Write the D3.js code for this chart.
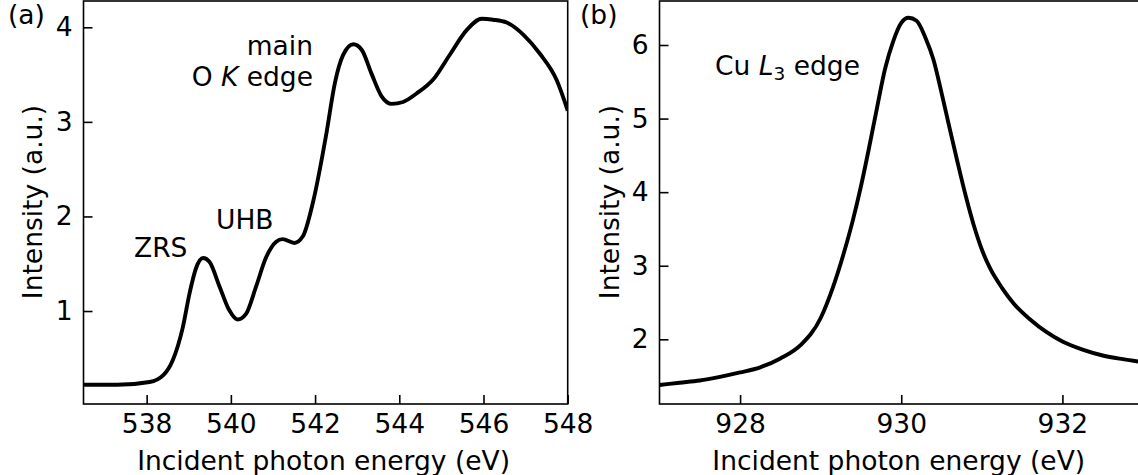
<html>
<head>
<style>
  body { margin: 0; background: #fff; }
  text { font-family: "DejaVu Sans", sans-serif; fill: #000; }
</style>
</head>
<body>
<script src="https://cdn.jsdelivr.net/npm/d3@7"></script>
<script>

// panel (a): O K edge
var energyA = [536.5, 537.3, 538.07, 538.39, 538.62, 538.86, 539.02, 539.17, 539.34, 539.49,
  539.73, 539.96, 540.16, 540.36, 540.6, 540.83, 541.07, 541.23, 541.51, 541.71,
  541.95, 542.27, 542.47, 542.67, 542.91, 543.11, 543.34, 543.58, 543.82,
  544.09, 544.41, 544.81, 545.2, 545.6, 545.96, 546.23, 546.55, 546.95, 547.34,
  547.74, 548.0];
var intensityA = [0.22, 0.22, 0.25, 0.32, 0.48, 0.83, 1.19, 1.45, 1.56, 1.52,
  1.26, 1.01, 0.91, 0.97, 1.26, 1.56, 1.73, 1.76, 1.72, 1.79,
  2.15, 2.88, 3.41, 3.71, 3.82, 3.76, 3.51, 3.27, 3.19,
  3.21, 3.30, 3.45, 3.71, 3.97, 4.09, 4.08, 4.05, 3.92, 3.72,
  3.44, 3.12];
var xTicksA = [538, 540, 542, 544, 546, 548];
var yTicksA = [1, 2, 3, 4];

// panel (b): Cu L3 edge
var energyB = [927.0, 927.25, 927.5, 927.75, 928.0, 928.25, 928.5, 928.75, 929.0, 929.15,
  929.3, 929.4, 929.5, 929.6, 929.7, 929.8, 929.9, 930.0, 930.09, 930.19,
  930.3, 930.4, 930.5, 930.6, 930.7, 930.8, 930.9, 931.0, 931.1, 931.25,
  931.4, 931.6, 931.8, 932.0, 932.25, 932.5, 932.75, 933.0];
var intensityB = [1.38, 1.41, 1.44, 1.49, 1.55, 1.62, 1.74, 1.92, 2.29, 2.70,
  3.22, 3.62, 4.08, 4.60, 5.15, 5.68, 6.05, 6.30, 6.37, 6.33,
  6.10, 5.80, 5.35, 4.87, 4.40, 3.95, 3.55, 3.22, 2.97, 2.70,
  2.48, 2.27, 2.10, 1.97, 1.86, 1.78, 1.73, 1.69];
var xTicksB = [928, 930, 932];
var yTicksB = [2, 3, 4, 5, 6];

var W = 1138, H = 475, FS = 26.5;
var svg = d3.select("body").append("svg")
  .attr("width", W).attr("height", H);

function panel(opts) {
  var x = d3.scaleLinear().domain(opts.xDomain).range(opts.xRange);
  var y = d3.scaleLinear().domain(opts.yDomain).range([404, 1]);
  var g = svg.append("g");

  var clipId = "clip" + opts.id;
  svg.append("clipPath").attr("id", clipId).append("rect")
    .attr("x", opts.xRange[0]).attr("y", 1)
    .attr("width", opts.xRange[1] - opts.xRange[0]).attr("height", 403);

  var line = d3.line()
    .x(function(d) { return x(d[0]); })
    .y(function(d) { return y(d[1]); })
    .curve(d3.curveMonotoneX);
  g.append("path")
    .datum(d3.zip(opts.xs, opts.ys))
    .attr("clip-path", "url(#" + clipId + ")")
    .attr("fill", "none").attr("stroke", "#000")
    .attr("stroke-width", 3.9).attr("stroke-linejoin", "round")
    .attr("d", line);

  var ax = g.append("g").attr("transform", "translate(0,404)")
    .call(d3.axisBottom(x).tickValues(opts.xTicks).tickSize(-9).tickPadding(10).tickFormat(d3.format("d")));
  var ay = g.append("g").attr("transform", "translate(" + opts.xRange[0] + ",0)")
    .call(d3.axisLeft(y).tickValues(opts.yTicks).tickSize(-9).tickPadding(11).tickFormat(d3.format("d")));
  [ax, ay].forEach(function(a) {
    a.select(".domain").remove();
    a.selectAll(".tick line").attr("stroke", "#000").attr("stroke-width", 1.6);
    a.selectAll(".tick text").attr("font-size", FS).attr("font-family", "DejaVu Sans").attr("fill", "#000");
  });

  g.append("rect")
    .attr("x", opts.xRange[0]).attr("y", 1)
    .attr("width", opts.xRange[1] - opts.xRange[0]).attr("height", 403)
    .attr("fill", "none").attr("stroke", "#000").attr("stroke-width", 1.6);

  g.append("text")
    .attr("x", (opts.xRange[0] + Math.min(opts.xRange[1], W)) / 2 + opts.xLabelShift)
    .attr("y", 470).attr("text-anchor", "middle").attr("font-size", FS)
    .text("Incident photon energy (eV)");
  g.append("text")
    .attr("transform", "translate(" + opts.yLabelX + ",202) rotate(-90)")
    .attr("text-anchor", "middle").attr("font-size", FS)
    .text("Intensity (a.u.)");
  g.append("text").attr("x", opts.tagX).attr("y", 24).attr("font-size", FS).text(opts.tag);
  return g;
}

var ga = panel({ id: "a", xs: energyA, ys: intensityA, xDomain: [536.5, 548], xRange: [83.5, 567.7],
  yDomain: [0.017, 4.278], xTicks: xTicksA, yTicks: yTicksA, xLabelShift: -2,
  yLabelX: 42, tagX: 8, tag: "(a)" });
var gb = panel({ id: "b", xs: energyB, ys: intensityB, xDomain: [927, 933], xRange: [659.5, 1143],
  yDomain: [1.121, 6.598], xTicks: xTicksB, yTicks: yTicksB, xLabelShift: 0,
  yLabelX: 619, tagX: 580, tag: "(b)" });

// annotations
ga.append("text").attr("x", 313).attr("y", 55).attr("text-anchor", "end").attr("font-size", FS).text("main");
var ok = ga.append("text").attr("x", 313).attr("y", 86).attr("text-anchor", "end").attr("font-size", FS);
ok.append("tspan").text("O ");
ok.append("tspan").attr("font-style", "italic").text("K");
ok.append("tspan").text(" edge");
ga.append("text").attr("x", 216).attr("y", 229).attr("font-size", FS).text("UHB");
ga.append("text").attr("x", 134).attr("y", 257).attr("font-size", FS).text("ZRS");

var cu = gb.append("text").attr("x", 715).attr("y", 75).attr("font-size", FS);
cu.append("tspan").text("Cu ");
cu.append("tspan").attr("font-style", "italic").text("L");
cu.append("tspan").attr("font-size", 18.5).attr("dy", 5).text("3");
cu.append("tspan").attr("dy", -5).text(" edge");

</script>
</body>
</html>
